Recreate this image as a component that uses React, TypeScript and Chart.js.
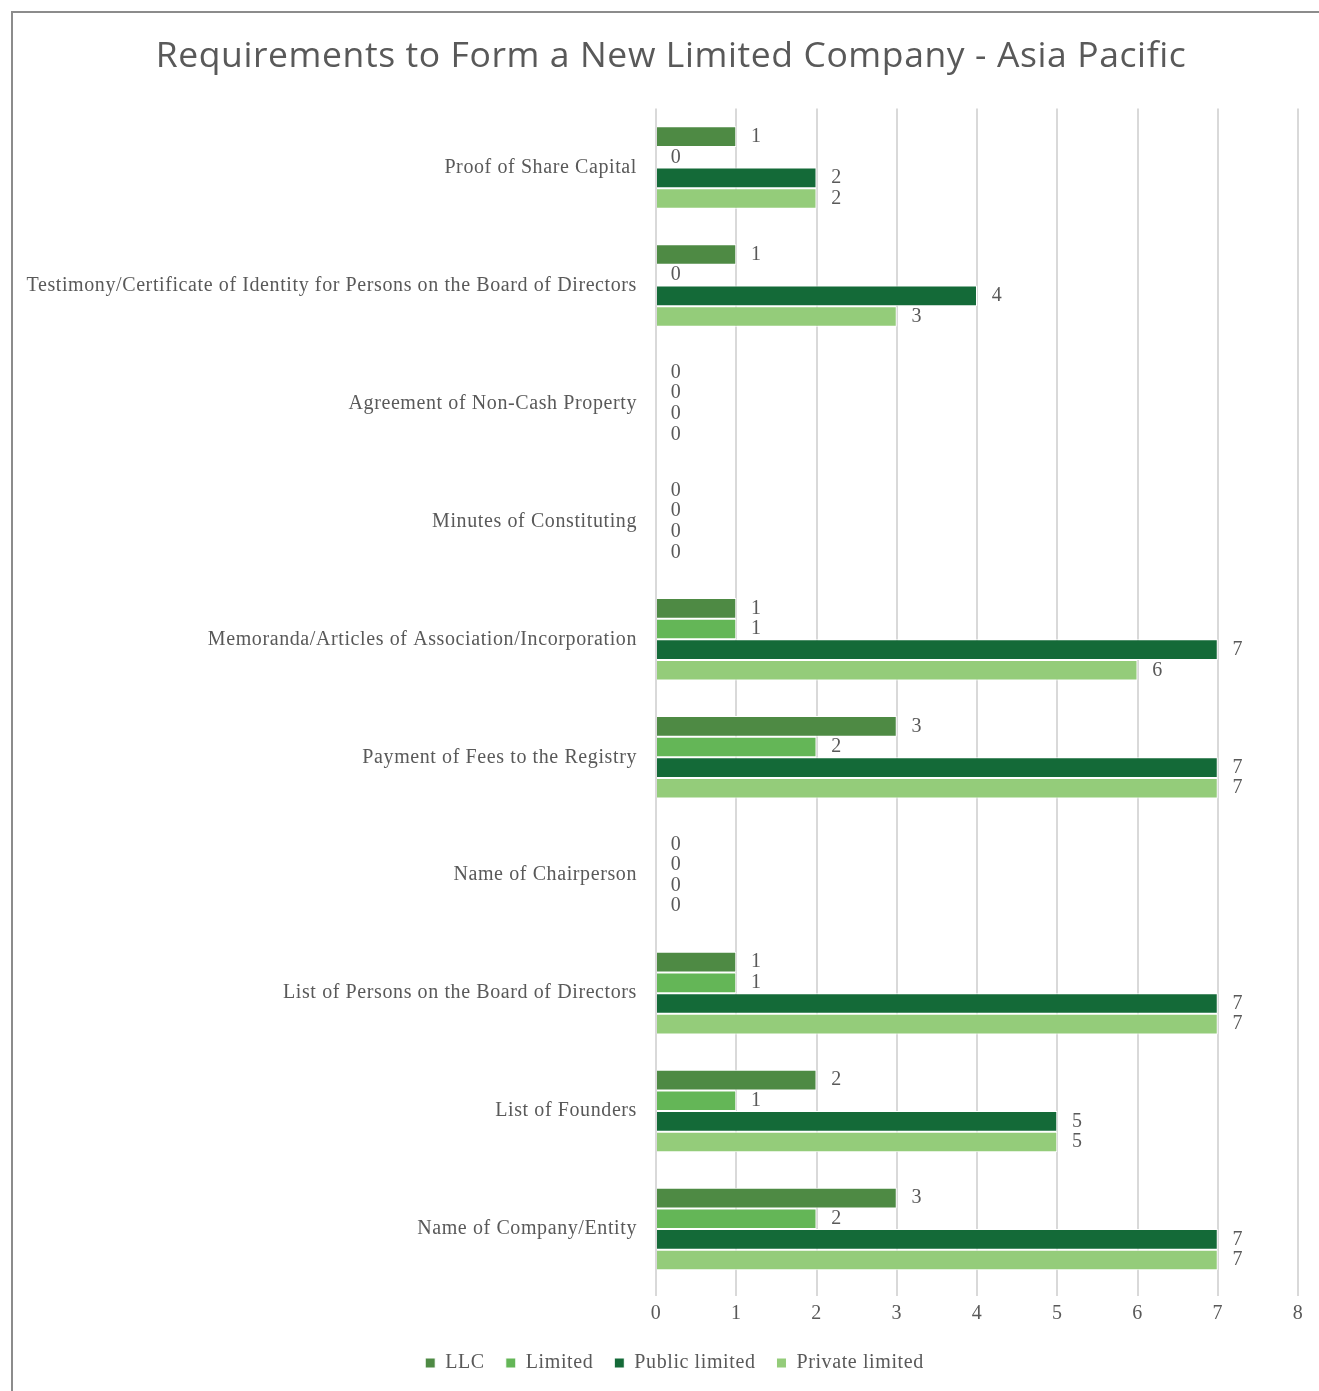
import React, { useEffect, useRef } from "react";
import { Chart, registerables } from "chart.js";

Chart.register(...registerables);

const categories = [
  "Proof of Share Capital",
  "Testimony/Certificate of Identity for Persons on the Board of Directors",
  "Agreement of Non-Cash Property",
  "Minutes of Constituting",
  "Memoranda/Articles of Association/Incorporation",
  "Payment of Fees to the Registry",
  "Name of Chairperson",
  "List of Persons on the Board of Directors",
  "List of Founders",
  "Name of Company/Entity",
];

const llc = [1, 1, 0, 0, 1, 3, 0, 1, 2, 3];
const limited = [0, 0, 0, 0, 1, 2, 0, 1, 1, 2];
const publicLimited = [2, 4, 0, 0, 7, 7, 0, 7, 5, 7];
const privateLimited = [2, 3, 0, 0, 6, 7, 0, 7, 5, 7];

const seriesNames = ["LLC", "Limited", "Public limited", "Private limited"];
const seriesColors = ["#4E8A44", "#64B657", "#146A38", "#94CC7A"];
const xTicks = [0, 1, 2, 3, 4, 5, 6, 7, 8];

const SERIF = "'Liberation Serif', 'DejaVu Serif', serif";
const TEXT = "#595959";
const SPACING = "0.6px";

const letterSpacing = {
  id: "letterSpacing",
  beforeInit(chart: any) {
    chart.ctx.letterSpacing = SPACING;
  },
  beforeLayout(chart: any) {
    chart.ctx.letterSpacing = SPACING;
  },
  beforeDraw(chart: any) {
    chart.ctx.letterSpacing = SPACING;
  },
};

// Title and legend are centred on the whole frame, not on the padded area.
const recenter = {
  id: "recenter",
  afterLayout(chart: any) {
    const t = chart.titleBlock;
    if (t) {
      t.left += 15.5;
      t.right += 15.5;
    }
    const l = chart.legend;
    if (l) {
      l.left += 19;
      l.right += 19;
    }
  },
};

const valueLabels = {
  id: "valueLabels",
  afterDatasetsDraw(chart: any) {
    const ctx = chart.ctx;
    ctx.save();
    ctx.font = `20px ${SERIF}`;
    ctx.fillStyle = TEXT;
    ctx.textAlign = "center";
    ctx.textBaseline = "middle";
    chart.data.datasets.forEach((ds: any, di: number) => {
      const meta = chart.getDatasetMeta(di);
      meta.data.forEach((el: any, i: number) => {
        ctx.fillText(String(ds.data[i]), el.x + 20, el.y);
      });
    });
    ctx.restore();
  },
};

export default function App() {
  const ref = useRef<HTMLCanvasElement | null>(null);

  useEffect(() => {
    if (!ref.current) return;
    const data = [llc, limited, publicLimited, privateLimited];
    const chart = new Chart(ref.current, {
      type: "bar",
      data: {
        labels: categories,
        datasets: data.map((d, i) => ({
          label: seriesNames[i],
          data: d,
          backgroundColor: seriesColors[i],
          borderColor: "#ffffff",
          borderWidth: 1,
          categoryPercentage: 0.7,
          barPercentage: 1,
        })),
      },
      options: {
        indexAxis: "y",
        animation: false,
        responsive: false,
        maintainAspectRatio: false,
        layout: { padding: { left: 0, right: 31, top: 0, bottom: 20 } },
        plugins: {
          title: {
            display: true,
            text: "Requirements to Form a New Limited Company - Asia Pacific",
            color: TEXT,
            font: { family: "'Open Sans', sans-serif", size: 35.5, weight: "normal" },
            padding: { top: 23, bottom: 30 },
          },
          legend: {
            position: "bottom",
            labels: {
              color: TEXT,
              font: { family: SERIF, size: 20 },
              boxWidth: 10,
              boxHeight: 10,
              padding: 21,
            },
          },
          tooltip: { enabled: false },
        },
        scales: {
          x: {
            min: 0,
            max: 8,
            afterBuildTicks: (scale: any) => {
              scale.ticks = xTicks.map((v) => ({ value: v }));
            },
            grid: { color: "#d9d9d9", lineWidth: 2, tickLength: 8, drawTicks: true },
            border: { display: false },
            ticks: { color: TEXT, font: { family: SERIF, size: 20 }, padding: 6 },
          },
          y: {
            grid: { display: false, drawTicks: false },
            border: { display: false },
            ticks: { color: TEXT, font: { family: SERIF, size: 20 }, padding: 19 },
            afterFit: (scale: any) => {
              scale.width = 643;
            },
          },
        },
      },
      plugins: [letterSpacing, recenter, valueLabels],
    });
    return () => chart.destroy();
  }, []);

  return (
    <div style={{ position: "fixed", left: 0, top: 0, width: 1319, height: 1391, overflow: "hidden", background: "#fff" }}>
      <div
        style={{
          position: "absolute",
          left: 11,
          top: 11,
          width: 1320,
          height: 1400,
          border: "2px solid #8c8c8c",
          boxSizing: "border-box",
          background: "#fff",
        }}
      >
        <canvas ref={ref} width={1316} height={1390} style={{ display: "block" }} />
      </div>
    </div>
  );
}
